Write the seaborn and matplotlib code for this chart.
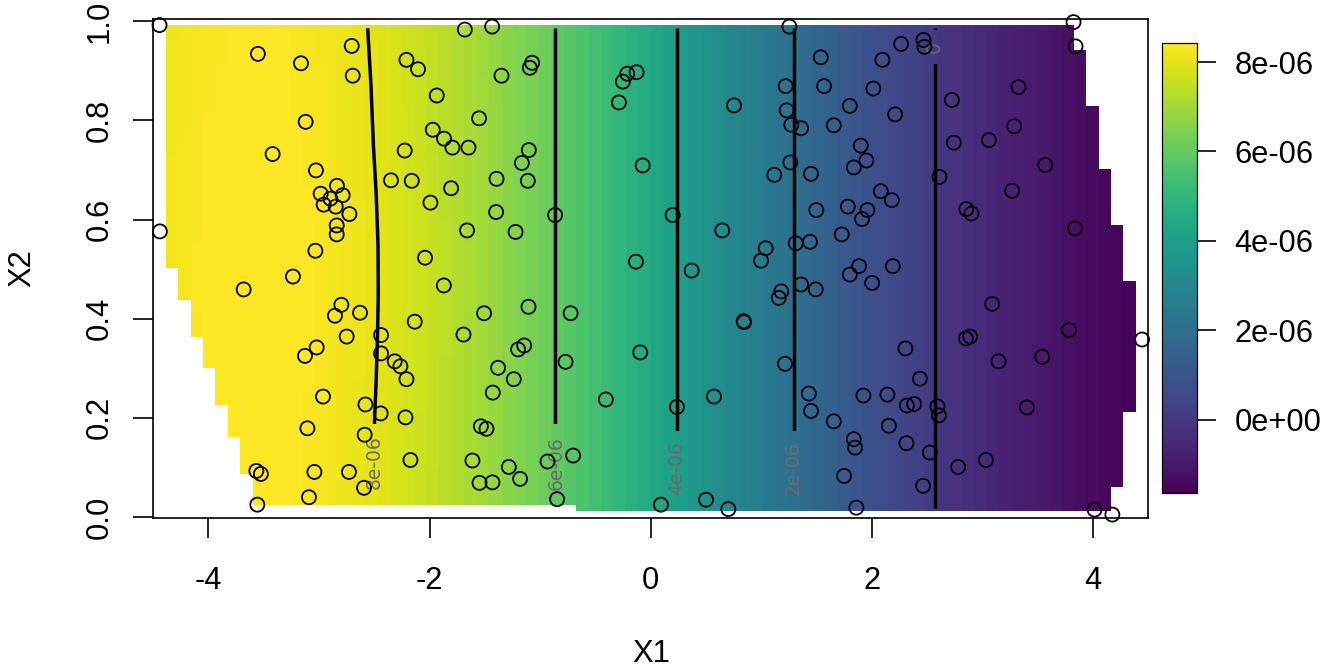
import numpy as np
import pandas as pd
import matplotlib
matplotlib.use("Agg")
import matplotlib.pyplot as plt
import seaborn as sns
from matplotlib.path import Path
from matplotlib.patches import PathPatch
from matplotlib.colors import Normalize
from matplotlib.cm import ScalarMappable

# ---------------- data: observed locations ----------------
x1 = [-4.443, -3.553, -3.163, -2.704, -2.695, -3.121, -3.420, -3.028, -2.838, -2.985,
      -2.897, -2.786, -2.958, -2.849, -2.725, -2.840, -2.840, -4.440, -3.033, -2.349,
      -1.681, -1.434, -2.209, -2.104, -1.935, -1.349, -1.072, -1.093, -1.552, -1.971,
      -1.869, -1.793, -1.648, -2.225, -1.102, -1.165, -2.161, -1.805, -1.394, -1.111,
      -1.992, -1.398, -0.864, -1.661, -1.222, -2.041, -0.212, -0.127, -0.251, -0.287,
      -0.072, -0.133,
      1.255, 1.539, 2.097, 1.222, 1.569, 2.015, 0.754, 1.802, 1.231, 1.273,
      1.361, 1.657, 2.212, 1.901, 1.952, 1.838, 1.264, 1.119, 1.451, 2.082,
      2.182, 1.784, 1.961, 1.913, 1.499, 0.199, 0.648, 1.729, 1.313, 1.442,
      1.041, 0.999,
      3.826, 3.844, 2.266, 2.468, 2.477, 3.328, 2.725, 3.289, 2.743, 3.060,
      3.570, 2.613, 3.271, 2.855, 2.903, 3.839,
      -3.236, -3.682, -2.798, -2.856, -2.629, -2.750, -2.439, -2.439, -2.315, -3.127,
      -3.021, -2.964, -2.580, -2.442, -3.105, -2.587, -3.567, -3.526, -3.042, -2.729,
      -2.593, -3.091, -3.558,
      -1.871, -2.134, -1.507, -1.105, -0.724, -1.693, -1.144, -1.199, -2.264, -2.209,
      -1.380, -1.238, -1.428, -0.770, -0.094, -0.405, -2.218, -1.536, -1.485, -2.173,
      -1.612, -1.283, -0.933, -0.701, -1.548, -1.431, -1.181, -0.846,
      0.371, 1.802, 1.886, 2.004, 2.191, 1.361, 1.494, 1.182, 1.159, 0.842,
      0.845, 1.216, 0.573, 0.238, 1.431, 1.451, 1.657, 1.925, 2.142, 2.155,
      1.838, 1.850, 1.750, 0.093, 0.501, 0.703, 1.861,
      3.090, 3.785, 2.852, 2.891, 2.305, 3.147, 3.543, 4.446, 2.436, 2.318,
      2.384, 2.595, 2.608, 3.404, 2.314, 2.526, 2.782, 3.033, 2.465, 4.016,
      4.177]
x2 = [0.992, 0.934, 0.915, 0.950, 0.890, 0.797, 0.732, 0.699, 0.668, 0.652,
      0.642, 0.649, 0.630, 0.626, 0.611, 0.588, 0.570, 0.576, 0.537, 0.679,
      0.983, 0.989, 0.922, 0.903, 0.850, 0.890, 0.916, 0.906, 0.804, 0.781,
      0.763, 0.745, 0.745, 0.739, 0.740, 0.714, 0.678, 0.663, 0.682, 0.678,
      0.634, 0.615, 0.609, 0.578, 0.575, 0.523, 0.894, 0.897, 0.878, 0.836,
      0.709, 0.515,
      0.989, 0.927, 0.922, 0.869, 0.869, 0.864, 0.830, 0.829, 0.820, 0.791,
      0.784, 0.790, 0.812, 0.749, 0.719, 0.705, 0.715, 0.690, 0.692, 0.657,
      0.639, 0.626, 0.619, 0.601, 0.619, 0.609, 0.578, 0.570, 0.552, 0.555,
      0.542, 0.517,
      0.998, 0.949, 0.954, 0.962, 0.948, 0.867, 0.841, 0.788, 0.755, 0.760,
      0.710, 0.686, 0.658, 0.621, 0.612, 0.582,
      0.485, 0.459, 0.428, 0.406, 0.412, 0.364, 0.367, 0.330, 0.314, 0.325,
      0.342, 0.243, 0.227, 0.209, 0.179, 0.166, 0.093, 0.087, 0.091, 0.091,
      0.059, 0.040, 0.025,
      0.467, 0.394, 0.411, 0.424, 0.411, 0.368, 0.346, 0.338, 0.304, 0.278,
      0.301, 0.278, 0.251, 0.313, 0.332, 0.237, 0.201, 0.183, 0.178, 0.115,
      0.114, 0.101, 0.112, 0.124, 0.069, 0.070, 0.077, 0.036,
      0.497, 0.489, 0.506, 0.472, 0.506, 0.469, 0.459, 0.455, 0.442, 0.395,
      0.393, 0.309, 0.243, 0.222, 0.249, 0.214, 0.193, 0.245, 0.247, 0.184,
      0.157, 0.140, 0.083, 0.025, 0.035, 0.016, 0.019,
      0.430, 0.377, 0.360, 0.364, 0.340, 0.314, 0.323, 0.358, 0.279, 0.225,
      0.228, 0.223, 0.205, 0.221, 0.149, 0.130, 0.101, 0.115, 0.063, 0.015,
      0.005]

# ---------------- data: fitted surface (values x 1e-6) ----------------
prof_x = [-4.5, -4.0, -3.5, -3.0, -2.5, -2.0, -1.5, -0.86, -0.3, 0.24, 0.77,
          1.30, 1.9, 2.57, 3.2, 3.8, 4.5]
prof_z = [8.15, 8.35, 8.42, 8.30, 8.0, 7.55, 6.95, 6.0, 5.0, 4.0, 3.0,
          2.0, 0.95, 0.0, -0.7, -1.25, -1.65]
bow_y = [0.0, 0.19, 0.28, 0.37, 0.45, 0.55, 0.65, 0.75, 0.87, 1.0]
bow_z = [0.0, 0.008, 0.021, 0.031, 0.036, 0.034, 0.021, 0.0, -0.018, -0.038]
bow_wx = [-4.5, -2.0, -1.3]
bow_wv = [1.0, 1.0, 0.0]
n_grid = 80

# contours and their labels
c_levels = [8, 6, 4, 2, 0]
c_labels = ["8e-06", "6e-06", "4e-06", "2e-06", "0"]
c_lab_x = [-2.496, -0.857, 0.238, 1.291, 2.568]
c_lab_y = [0.110, 0.108, 0.098, 0.098, 0.948]
c_gap_lo = [-1.0, -1.0, -1.0, -1.0, 0.913]
c_gap_hi = [0.188, 0.188, 0.174, 0.174, 0.983]

xticks = [-4, -2, 0, 2, 4]
xtick_labels = ["-4", "-2", "0", "2", "4"]
yticks = [0.0, 0.2, 0.4, 0.6, 0.8, 1.0]
ytick_labels = ["0.0", "0.2", "0.4", "0.6", "0.8", "1.0"]
cb_ticks = [0, 2, 4, 6, 8]
cb_labels = ["0e+00", "2e-06", "4e-06", "6e-06", "8e-06"]


def convex_hull(points):
    pts = sorted(set(points))

    def cross(o, a, b):
        return (a[0] - o[0]) * (b[1] - o[1]) - (a[1] - o[1]) * (b[0] - o[0])

    lower, upper = [], []
    for p in pts:
        while len(lower) >= 2 and cross(lower[-2], lower[-1], p) <= 0:
            lower.pop()
        lower.append(p)
    for p in reversed(pts):
        while len(upper) >= 2 and cross(upper[-2], upper[-1], p) <= 0:
            upper.pop()
        upper.append(p)
    return lower[:-1] + upper[:-1]


sns.set_theme(style="ticks")
plt.rcParams["font.family"] = ["Liberation Sans", "DejaVu Sans"]
FS = 22.2

W, H = 1344, 672
fig = plt.figure(figsize=(W / 100, H / 100), dpi=100)
ax = fig.add_axes([153.3 / W, 1 - 517.7 / H, 995 / W, 498.7 / H])
cax = fig.add_axes([1162.3 / W, 1 - 493.3 / H, 35 / W, 450 / H])

gx = np.linspace(min(x1), max(x1), n_grid)
gy = np.linspace(min(x2), max(x2), n_grid)
GX, GY = np.meshgrid(gx, gy)
Z = (np.interp(GX, prof_x, prof_z)
     + np.interp(GY, bow_y, bow_z) * np.interp(GX, bow_wx, bow_wv)) * 1e-6
hull = convex_hull(list(zip(x1, x2)))
inside = Path(hull).contains_points(
    np.column_stack([GX.ravel(), GY.ravel()])).reshape(GX.shape)
Zm = np.ma.masked_where(~inside, Z)

norm = Normalize(vmin=min(prof_z) * 1e-6, vmax=max(prof_z) * 1e-6)
ax.pcolormesh(gx, gy, Zm, cmap="viridis", norm=norm, shading="nearest",
              zorder=1, rasterized=True)

dx = gx[1] - gx[0]
dy = gy[1] - gy[0]
xl, xr = gx[0] - dx / 2, gx[-1] + dx / 2
yb, yt = gy[0] - dy / 2, gy[-1] + dy / 2
ax.set_xlim(xl, xr)
ax.set_ylim(yb, yt)

codes = [Path.MOVETO, Path.LINETO, Path.LINETO, Path.LINETO, Path.CLOSEPOLY] * 2
for lev, lo, hi, lab, lx, ly in zip(c_levels, c_gap_lo, c_gap_hi, c_labels,
                                    c_lab_x, c_lab_y):
    cs = ax.contour(gx, gy, Zm, levels=[lev * 1e-6], colors="black",
                    linewidths=2.5, zorder=2)
    verts = [(xl - 1, -2), (xr + 1, -2), (xr + 1, lo), (xl - 1, lo), (xl - 1, -2),
             (xl - 1, hi), (xr + 1, hi), (xr + 1, 3), (xl - 1, 3), (xl - 1, hi)]
    cs.set_clip_path(PathPatch(Path(verts, codes), transform=ax.transData))
    ax.text(lx, ly, lab, rotation=90, ha="center", va="center", fontsize=13.5,
            color="#6a6a6a", family=["DejaVu Sans"], zorder=3)

df = pd.DataFrame({"X1": x1, "X2": x2})
sns.scatterplot(data=df, x="X1", y="X2", ax=ax, s=102, facecolor="none",
                edgecolor="black", linewidth=1.3, zorder=4, clip_on=False,
                legend=False)

ax.set_xticks(xticks)
ax.set_xticklabels(xtick_labels)
ax.set_yticks(yticks)
ax.set_yticklabels(ytick_labels, rotation=90, va="center")
ax.tick_params(axis="both", which="major", direction="out", length=14.4,
               width=1.2, labelsize=FS, color="black", labelcolor="black",
               bottom=True, left=True, top=False, right=False)
ax.tick_params(axis="x", pad=20.5)
ax.tick_params(axis="y", pad=13.3)
for sp in ax.spines.values():
    sp.set_visible(True)
    sp.set_color("black")
    sp.set_linewidth(1.2)
ax.grid(False)

ax.set_xlabel("X1", fontsize=FS, color="black")
ax.xaxis.label.set_va("center")
ax.xaxis.set_label_coords(0.5, (517.7 - 654) / 498.7)
ax.set_ylabel("X2", fontsize=FS, color="black")
ax.yaxis.label.set_va("center")
ax.yaxis.label.set_ha("center")
ax.yaxis.set_label_coords((22 - 153.3) / 995, 0.5)

sm = ScalarMappable(norm=norm, cmap="viridis")
cb = fig.colorbar(sm, cax=cax)
cb.set_ticks([t * 1e-6 for t in cb_ticks])
cb.set_ticklabels(cb_labels)
cb.minorticks_off()
cax.tick_params(direction="out", length=13.7, width=1.2, labelsize=FS,
                pad=13, color="black", labelcolor="black", right=True)
cb.outline.set_linewidth(0.9)
cb.outline.set_edgecolor("black")

fig.savefig("out.png", dpi=100)
